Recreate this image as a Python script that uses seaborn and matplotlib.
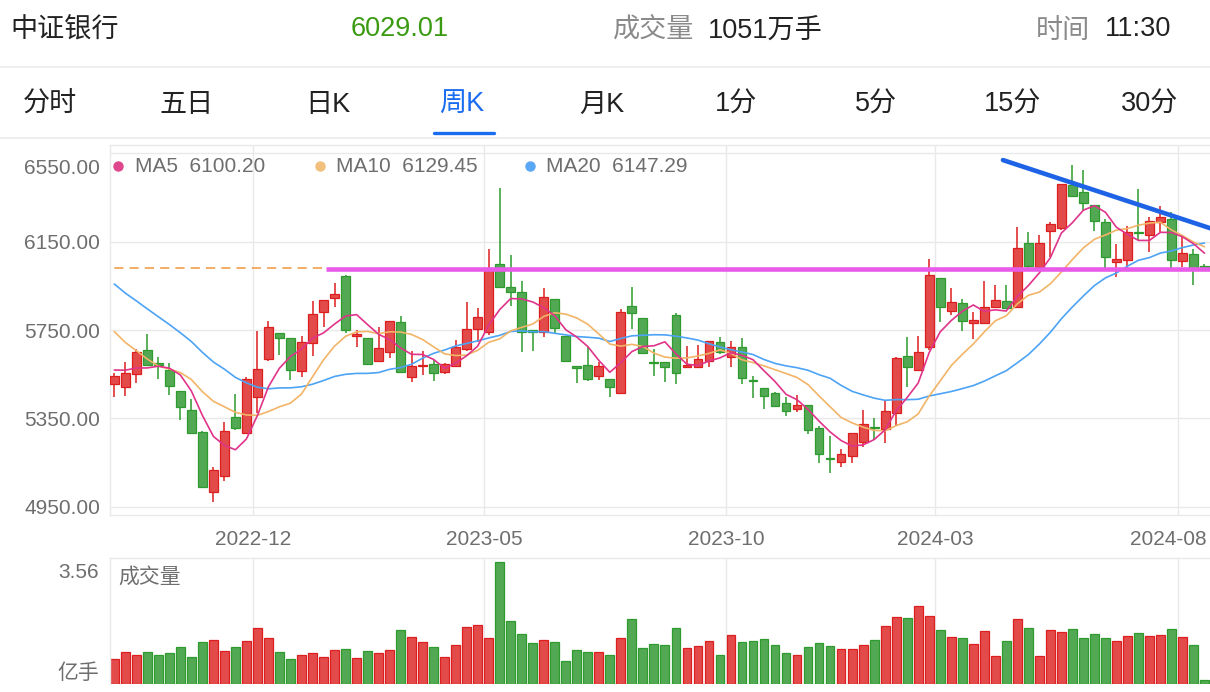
import numpy as np
import pandas as pd
import matplotlib
matplotlib.use("Agg")
import matplotlib.pyplot as plt
import seaborn as sns
from matplotlib.lines import Line2D
from matplotlib.transforms import ScaledTranslation

# ---------------- data ----------------
title_name = "中证银行"
last_price = 6029.01
header_volume = "1051万手"
header_time = "11:30"
tabs = ["分时", "五日", "日K", "周K", "月K", "1分", "5分", "15分", "30分"]
active_tab = "周K"
ma_legend = [("MA5", "6100.20"), ("MA10", "6129.45"), ("MA20", "6147.29")]
date_labels = ["2022-12", "2023-05", "2023-10", "2024-03", "2024-08"]
price_ticks = [4950, 5350, 5750, 6150, 6550]
volume_top_label = "3.56"
volume_unit = "亿手"

# weekly closes before the visible window (only used to warm up moving averages)
prior_closes = [6380, 6350, 6320, 6300, 6200, 6150, 6080, 6020, 5990, 5940,
                6050, 6020, 5970, 5910, 5635, 5560, 5600, 5590, 5553]

opens = [5504, 5492, 5550, 5661, 5602, 5569, 5476, 5388, 5290, 5019,
         5091, 5358, 5286, 5448, 5617, 5738, 5712, 5566, 5690, 5830,
         5893, 5995, 5723, 5712, 5611, 5649, 5787, 5539, 5587, 5595,
         5559, 5589, 5664, 5753, 5743, 6048, 5946, 5920, 5750, 5743,
         5890, 5724, 5587, 5592, 5543, 5527, 5467, 5860, 5803, 5607,
         5607, 5818, 5581, 5581, 5611, 5694, 5627, 5674, 5524, 5486,
         5467, 5418, 5393, 5411, 5306, 5170, 5152, 5182, 5245, 5313,
         5302, 5376, 5634, 5571, 5674, 5986, 5836, 5873, 5783, 5783,
         5855, 5881, 5855, 6145, 6036, 6199, 6210, 6405, 6372, 6315,
         6240, 6059, 6066, 6191, 6179, 6240, 6250, 6063, 6092, 6040]
highs = [5557, 5607, 5663, 5730, 5629, 5602, 5476, 5437, 5292, 5132,
         5335, 5461, 5539, 5745, 5789, 5738, 5714, 5723, 5882, 5886,
         5961, 5997, 5750, 5714, 5765, 5792, 5815, 5655, 5655, 5614,
         5599, 5705, 5875, 5848, 6115, 6390, 6089, 5973, 5750, 5938,
         5890, 5724, 5587, 5674, 5604, 5527, 5843, 5943, 5803, 5663,
         5607, 5825, 5678, 5682, 5702, 5720, 5702, 5712, 5542, 5486,
         5471, 5445, 5456, 5411, 5316, 5271, 5212, 5286, 5388, 5351,
         5434, 5629, 5720, 5723, 6073, 5986, 5941, 5889, 5830, 5971,
         5953, 5953, 6217, 6194, 6179, 6240, 6409, 6496, 6473, 6315,
         6252, 6139, 6220, 6386, 6259, 6310, 6285, 6172, 6115, 6050]
lows = [5448, 5452, 5512, 5592, 5530, 5456, 5343, 5286, 5040, 4971,
        5067, 5298, 5283, 5374, 5611, 5637, 5524, 5539, 5634, 5765,
        5855, 5735, 5674, 5593, 5611, 5622, 5559, 5514, 5547, 5521,
        5551, 5582, 5656, 5694, 5727, 5946, 5860, 5649, 5655, 5719,
        5738, 5610, 5509, 5520, 5524, 5445, 5460, 5754, 5645, 5542,
        5514, 5505, 5581, 5577, 5584, 5641, 5584, 5506, 5444, 5392,
        5403, 5362, 5378, 5279, 5147, 5104, 5132, 5147, 5222, 5256,
        5238, 5320, 5494, 5566, 5660, 5785, 5818, 5745, 5708, 5777,
        5855, 5843, 5855, 6029, 6029, 6081, 6202, 6352, 6292, 6199,
        6029, 5991, 6029, 6157, 6104, 6194, 6029, 6036, 5953, 6020]
closes = [5542, 5557, 5649, 5592, 5592, 5498, 5403, 5286, 5042, 5117,
          5293, 5306, 5530, 5575, 5765, 5712, 5569, 5697, 5821, 5886,
          5911, 5750, 5730, 5595, 5667, 5792, 5559, 5587, 5592, 5554,
          5595, 5674, 5753, 5810, 6029, 5946, 5923, 5743, 5743, 5900,
          5760, 5610, 5577, 5529, 5587, 5491, 5830, 5825, 5645, 5602,
          5581, 5557, 5592, 5617, 5702, 5652, 5674, 5532, 5519, 5452,
          5408, 5385, 5411, 5298, 5188, 5166, 5189, 5286, 5325, 5308,
          5385, 5622, 5584, 5652, 5998, 5852, 5878, 5792, 5795, 5855,
          5886, 5851, 6122, 6039, 6142, 6228, 6409, 6356, 6323, 6244,
          6079, 6071, 6194, 6187, 6244, 6262, 6066, 6097, 6032, 6029.01]
volumes = [0.74, 0.94, 0.84, 0.92, 0.85, 0.90, 1.07, 0.80, 1.22, 1.27,
           0.97, 1.08, 1.25, 1.64, 1.33, 0.94, 0.73, 0.84, 0.90, 0.79,
           0.99, 1.02, 0.77, 0.96, 0.91, 0.99, 1.56, 1.38, 1.21, 1.09,
           0.80, 1.13, 1.66, 1.73, 1.34, 3.56, 1.84, 1.47, 1.20, 1.27,
           1.23, 0.67, 0.99, 0.94, 0.92, 0.83, 1.35, 1.89, 1.04, 1.15,
           1.14, 1.64, 1.06, 1.11, 1.24, 0.84, 1.43, 1.21, 1.25, 1.32,
           1.13, 0.91, 0.84, 1.08, 1.18, 1.12, 1.01, 1.01, 1.14, 1.27,
           1.68, 1.94, 1.91, 2.27, 1.99, 1.57, 1.38, 1.34, 1.17, 1.53,
           0.81, 1.26, 1.90, 1.62, 0.81, 1.56, 1.51, 1.59, 1.33, 1.45,
           1.33, 1.24, 1.40, 1.48, 1.40, 1.42, 1.60, 1.36, 1.13, 0.13]

# drawn annotation lines (start week index, price) -> (end week index, price)
support_line = (19.2, 6025.0)
trend_line = [(80.7, 6518.0), (100.5, 6194.0)]

# ---------------- styling / layout ----------------
W, H = 1210, 692
RED, RED_EDGE = "#E34B4B", "#DC1E1E"
GREEN, GREEN_EDGE = "#53A853", "#2E9B2E"
C_MA5, C_MA10, C_MA20 = "#E0338A", "#F2B467", "#4DA3F5"
GRID = "#E9E9E9"
TXT_GRAY = "#6E6E6E"

sns.set_theme(style="white")
plt.rcParams['font.family'] = ['Liberation Sans', 'Noto Sans CJK SC', 'DejaVu Sans']


def fx(px):
    return px / W


def fy(py):
    return 1 - py / H


df = pd.DataFrame({"week": np.arange(len(closes)), "open": opens, "high": highs,
                   "low": lows, "close": closes, "volume": volumes})
df["dir"] = np.where(df["close"] >= df["open"], "up", "down")
all_close = pd.Series(list(prior_closes) + list(closes), dtype=float)
n0 = len(prior_closes)
for n in (5, 10, 20):
    df[f"ma{n}"] = all_close.rolling(n).mean().to_numpy()[n0:]

fig = plt.figure(figsize=(W / 100, H / 100), dpi=100)
fig.patch.set_facecolor("white")

XL = (-0.39, 99.5)
ax = fig.add_axes([fx(110), fy(515), fx(1210) - fx(110), fy(145) - fy(515)])
axv = fig.add_axes([fx(110), fy(684), fx(1210) - fx(110), fy(558) - fy(684)])

# ---- candles ----
BW = 0.8
for d, col, ecol in (("up", RED, RED_EDGE), ("down", GREEN, GREEN_EDGE)):
    s = df[df["dir"] == d]
    ax.vlines(s["week"], s["low"], s["high"], color=ecol, lw=1.1, zorder=2)
    body_lo = np.minimum(s["open"], s["close"])
    body_h = np.maximum(np.abs(s["close"] - s["open"]), 1.5)
    ax.bar(s["week"], body_h, bottom=body_lo, width=BW, color=col,
           edgecolor=ecol, linewidth=0.9, zorder=3)

# ---- current price & drawn lines ----
ax.plot([XL[0] - 1, support_line[0]], [last_price] * 2, color="#F0963C", lw=1.1,
        dashes=(6, 4), zorder=1)
ax.plot([support_line[0], XL[1] + 1], [support_line[1]] * 2, color="#E85AE8",
        lw=3.3, solid_capstyle="butt", zorder=6)
ax.plot([p[0] for p in trend_line], [p[1] for p in trend_line], color="#1E63E6",
        lw=3.3, solid_capstyle="round", zorder=7)

# ---- moving averages ----
sns.lineplot(data=df, x="week", y="ma20", ax=ax, color=C_MA20, lw=1.2, zorder=5)
sns.lineplot(data=df, x="week", y="ma10", ax=ax, color=C_MA10, lw=1.2, zorder=5)
sns.lineplot(data=df, x="week", y="ma5", ax=ax, color=C_MA5, lw=1.2, zorder=5)

# ---- volume ----
for d, col, ecol in (("up", RED, RED_EDGE), ("down", GREEN, GREEN_EDGE)):
    s = df[df["dir"] == d]
    sns.barplot(x=s["week"], y=s["volume"], native_scale=True, width=BW,
                color=col, edgecolor=ecol, linewidth=0.9, saturation=1,
                errorbar=None, ax=axv)

# ---- axes formatting ----
grid_x = [12.6, 33.58, 55.56, 74.54, 96.61]
for a in (ax, axv):
    a.set_xlim(*XL)
    a.set_xlabel("")
    a.set_ylabel("")
    a.set_xticks(grid_x)
    a.grid(True, axis="x", color=GRID, lw=1.0)
    a.set_axisbelow(True)
    a.spines["right"].set_visible(False)
    for sp in ("top", "left", "bottom"):
        a.spines[sp].set_color(GRID)
        a.spines[sp].set_linewidth(1.0)
    a.tick_params(length=0)
    a.set_facecolor("white")

ax.set_ylim(4913.8, 6586.2)
ax.set_yticks(price_ticks)
ax.set_yticklabels([f"{v:.2f}" for v in price_ticks], color=TXT_GRAY, fontsize=15)
ax.tick_params(axis="y", pad=7)
ax.grid(True, axis="y", color=GRID, lw=1.0)
top_lab = ax.get_yticklabels()[-1]
top_lab.set_transform(top_lab.get_transform() + ScaledTranslation(0, -0.13, fig.dpi_scale_trans))
ax.set_xticklabels(date_labels, color=TXT_GRAY, fontsize=15)
ax.tick_params(axis="x", pad=11)
last_lab = ax.get_xticklabels()[-1]
last_lab.set_transform(last_lab.get_transform() + ScaledTranslation(-0.10, 0, fig.dpi_scale_trans))

axv.set_ylim(0, 3.668)
axv.set_yticks([])
axv.set_xticklabels([])
axv.spines["bottom"].set_visible(False)

fig.text(fx(99), fy(572), volume_top_label, ha="right", va="center", color=TXT_GRAY, fontsize=15)
fig.text(fx(99), fy(673), volume_unit, ha="right", va="center", color=TXT_GRAY, fontsize=15)
fig.text(fx(118), fy(577), "成交量", ha="left", va="center", color=TXT_GRAY, fontsize=15)

# ---- MA legend ----
dot_cols = ["#E0468C", "#F0C07C", "#5AA8F5"]
for (name, val), xd, xt, c in zip(ma_legend, (118, 320, 530), (135, 336, 546), dot_cols):
    fig.add_artist(Line2D([fx(xd)], [fy(166)], marker="o", ms=6.5, color=c,
                          transform=fig.transFigure))
    fig.text(fx(xt), fy(166), f"{name}  {val}", ha="left", va="center",
             color=TXT_GRAY, fontsize=15)

# ---- header ----
HF = 19.5
HY, TY = 31, 105
fig.text(fx(10), fy(HY), title_name, ha="left", va="center", color="#222222", fontsize=HF)
fig.text(fx(400), fy(HY - 2), f"{last_price:.2f}", ha="center", va="center", color="#3A9A12", fontsize=HF)
fig.text(fx(613), fy(HY), "成交量", ha="left", va="center", color="#8A8A8A", fontsize=HF)
fig.text(fx(708), fy(HY), header_volume, ha="left", va="center", color="#222222", fontsize=HF)
fig.text(fx(1036), fy(HY), "时间", ha="left", va="center", color="#8A8A8A", fontsize=HF)
fig.text(fx(1105), fy(HY - 2), header_time, ha="left", va="center", color="#222222", fontsize=HF)
fig.add_artist(Line2D([0, 1], [fy(67), fy(67)], color="#EBEBEB", lw=1.2, transform=fig.transFigure))

tab_centers = [50, 187, 328, 462, 602, 736, 876, 1013, 1150]
for t, cx in zip(tabs, tab_centers):
    c = "#1A6CF0" if t == active_tab else "#222222"
    fig.text(fx(cx), fy(TY), t, ha="center", va="center", color=c, fontsize=HF)
fig.add_artist(Line2D([fx(434), fx(494)], [fy(133), fy(133)], color="#1A6CF0", lw=2.4,
                      transform=fig.transFigure))
fig.add_artist(Line2D([0, 1], [fy(138), fy(138)], color="#EBEBEB", lw=1.2, transform=fig.transFigure))

fig.savefig("out.png", dpi=100, facecolor="white")
